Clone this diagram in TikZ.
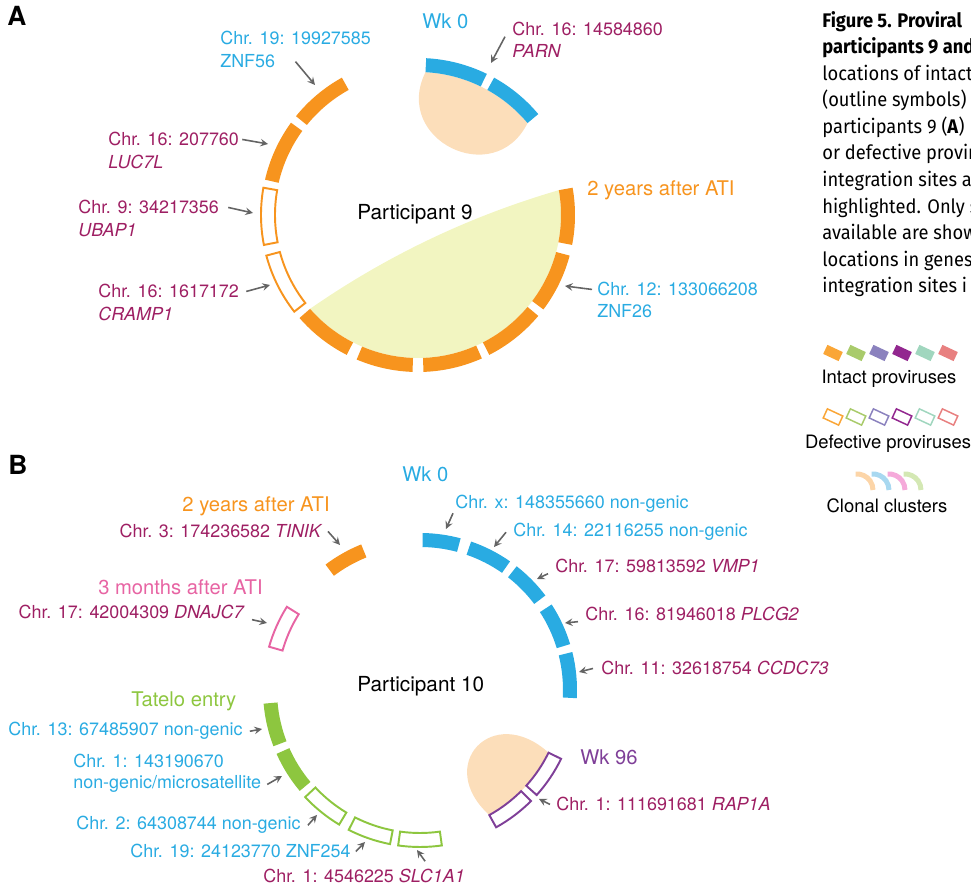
\documentclass[tikz,border=0pt]{standalone}
\usepackage{fontspec}
\setmainfont{TeX Gyre Heros}
\newfontfamily\capfont[FakeStretch=0.93]{Fira Sans}
\usepackage{tikz}

\definecolor{segorange}{RGB}{247,148,30}
\definecolor{segblue}{RGB}{41,171,226}
\definecolor{seggreen}{RGB}{141,198,63}
\definecolor{segpink}{RGB}{231,100,163}
\definecolor{segpurple}{RGB}{127,63,152}
\definecolor{txtmag}{RGB}{158,31,99}
\definecolor{clyellow}{RGB}{242,245,193}
\definecolor{clpeach}{RGB}{252,222,186}
\definecolor{pingray}{RGB}{100,100,100}
\definecolor{lgorange}{RGB}{250,166,55}
\definecolor{lggreen}{RGB}{169,203,107}
\definecolor{lglav}{RGB}{139,130,190}
\definecolor{lgpurple}{RGB}{146,39,143}
\definecolor{lgmint}{RGB}{160,214,190}
\definecolor{lgsalmon}{RGB}{232,128,128}
\definecolor{lcpeach}{RGB}{252,213,168}
\definecolor{lcblue}{RGB}{168,216,240}
\definecolor{lcpink}{RGB}{245,170,218}
\definecolor{lcgreen}{RGB}{212,232,180}

\begin{document}
\begin{tikzpicture}[x=0.02cm, y=0.02cm,
  lbl/.style={inner sep=0pt, anchor=base west, font=\fontsize{10.2}{12}\selectfont},
  tp/.style={inner sep=0pt, anchor=base west, font=\fontsize{11.5}{14}\selectfont},
  pin/.style={-stealth, draw=pingray, line width=0.9pt},
  defect/.style={draw=#1, line width=1.1pt, fill=white},
  legbox/.style={rectangle, inner sep=0pt, minimum width=0.34cm, minimum height=0.2cm, rotate=-25}]
\useasboundingbox (0,0) rectangle (971,892);

%%% A: participant 9
\node (lettA) [inner sep=0pt, anchor=base west, font=\fontsize{15}{17}\selectfont\bfseries] at (7,866) {A};
\begin{scope}[shift={(418,677)}]
% clonal clusters
\fill [clyellow] (10:143) arc[start angle=10, end angle=-139, radius=143] .. controls (-31.5,-40.8) and (51.4,-1.2) .. (10:143) -- cycle;
\fill [clpeach] (87:143) arc[start angle=87, end angle=40, radius=143] .. controls (76,24.8) and (-26,75.7) .. (87:143) -- cycle;
% proviruses
\foreach \a/\b in {-11/10, -37/-15, -63/-40, -88/-66, -113/-92, -139/-117, 119/141, 144/167}
  \fill [segorange] (\a:143) arc[start angle=\a, end angle=\b, radius=143] -- (\b:157) arc[start angle=\b, end angle=\a, radius=157] -- cycle;
\foreach \a/\b in {170/191, 195/218}
  \draw [defect=segorange] (\a:143) arc[start angle=\a, end angle=\b, radius=143] -- (\b:157) arc[start angle=\b, end angle=\a, radius=157] -- cycle;
\foreach \a/\b in {40/61, 64/87}
  \fill [segblue] (\a:143) arc[start angle=\a, end angle=\b, radius=143] -- (\b:157) arc[start angle=\b, end angle=\a, radius=157] -- cycle;
\end{scope}

\node (p9) [tp, font=\fontsize{11.8}{14}\selectfont] at (357,672) {Participant 9};
\node (wk0a) [tp, text=segblue] at (422,863) {Wk 0};
\node (atiA) [tp, text=segorange] at (587,696) {2 years after ATI};

\node (c19) [lbl, text=segblue] at (220,847) {Chr. 19: 19927585};
\node (g19) [lbl, text=segblue] at (220,824) {ZNF56};
\node (c16a) [lbl, text=txtmag] at (108,746) {Chr. 16: 207760};
\node (g16a) [lbl, text=txtmag] at (108,723) {\textit{LUC7L}};
\node (c9) [lbl, text=txtmag] at (78,678) {Chr. 9: 34217356};
\node (g9) [lbl, text=txtmag] at (78,655) {\textit{UBAP1}};
\node (c16b) [lbl, text=txtmag] at (98,594) {Chr. 16: 1617172};
\node (g16b) [lbl, text=txtmag] at (98,571) {\textit{CRAMP1}};
\node (c16c) [lbl, text=txtmag] at (512,856) {Chr. 16: 14584860};
\node (g16c) [lbl, text=txtmag] at (512,834) {\textit{PARN}};
\node (c12) [lbl, text=segblue] at (597,596) {Chr. 12: 133066208};
\node (g12) [lbl, text=segblue] at (597,574) {ZNF26};

\coordinate (t19) at (315,807);
\coordinate (t16a) at (268,748);
\coordinate (t9) at (253,679);
\coordinate (t16b) at (270,607);
\coordinate (t16c) at (491,829);
\coordinate (t12) at (565,606);
\draw [pin] ([xshift=0.4cm]g19.east) -- (t19);
\draw [pin] ([xshift=0.06cm]c16a.east) -- (t16a);
\draw [pin] ([xshift=0.18cm]c9.east) -- (t9);
\draw [pin] ([xshift=0.14cm]c16b.east) -- (t16b);
\draw [pin] ([xshift=-0.14cm]c16c.south west) -- (t16c);
\draw [pin] ([xshift=-0.1cm]c12.west) -- (t12);

%%% B: participant 10
\node (lettB) [inner sep=0pt, anchor=base west, font=\fontsize{15}{17}\selectfont\bfseries] at (8,417) {B};
\begin{scope}[shift={(420,202)}]
\fill [clpeach] (-26:143) arc[start angle=-26, end angle=-61, radius=143] .. controls (13.8,-74.8) and (73,-12.4) .. (-26:143) -- cycle;
\foreach \a/\b in {-3/14, 17/33, 37/52, 55/71, 75/89}
  \fill [segblue] (\a:143) arc[start angle=\a, end angle=\b, radius=143] -- (\b:157) arc[start angle=\b, end angle=\a, radius=157] -- cycle;
\fill [segorange] (112:143) arc[start angle=112, end angle=127, radius=143] -- (127:157) arc[start angle=127, end angle=112, radius=157] -- cycle;
\draw [defect=segpink] (148:143) arc[start angle=148, end angle=164, radius=143] -- (164:157) arc[start angle=164, end angle=148, radius=157] -- cycle;
\foreach \a/\b in {185/201, 204/220}
  \fill [seggreen] (\a:143) arc[start angle=\a, end angle=\b, radius=143] -- (\b:157) arc[start angle=\b, end angle=\a, radius=157] -- cycle;
\foreach \a/\b in {223/239, 243/259, 262/278}
  \draw [defect=seggreen] (\a:143) arc[start angle=\a, end angle=\b, radius=143] -- (\b:157) arc[start angle=\b, end angle=\a, radius=157] -- cycle;
\foreach \a/\b in {-42/-26, -61/-45}
  \draw [defect=segpurple] (\a:143) arc[start angle=\a, end angle=\b, radius=143] -- (\b:157) arc[start angle=\b, end angle=\a, radius=157] -- cycle;
\end{scope}

\node (p10) [tp, font=\fontsize{11.8}{14}\selectfont] at (357,200) {Participant 10};
\node (atiB) [tp, anchor=base east, text=segorange] at (330,380) {2 years after ATI};
\node (m3) [tp, anchor=base east, text=segpink] at (263,297) {3 months after ATI};
\node (wk0b) [tp, text=segblue] at (402,410) {Wk 0};
\node (tat) [tp, text=seggreen] at (131,185) {Tatelo entry};
\node (wk96) [tp, text=segpurple] at (580,127) {Wk 96};

\node (c3) [lbl, anchor=base east, text=txtmag] at (323,354) {Chr. 3: 174236582 \textit{TINIK}};
\node (c17a) [lbl, anchor=base east, text=txtmag] at (245,273) {Chr. 17: 42004309 \textit{DNAJC7}};
\node (cx) [lbl, text=segblue] at (455,383) {Chr. x: 148355660 non-genic};
\node (c14) [lbl, text=segblue] at (513,355) {Chr. 14: 22116255 non-genic};
\node (c17b) [lbl, text=txtmag] at (555,319) {Chr. 17: 59813592 \textit{VMP1}};
\node (c16d) [lbl, text=txtmag] at (585,271) {Chr. 16: 81946018 \textit{PLCG2}};
\node (c11) [lbl, text=txtmag] at (601,217) {Chr. 11: 32618754 \textit{CCDC73}};
\node (c13) [lbl, text=segblue] at (8,156) {Chr. 13: 67485907 non-genic};
\node (c1a) [lbl, text=segblue] at (73,124) {Chr. 1: 143190670};
\node (g1a) [lbl, text=segblue] at (73,103) {non-genic/microsatellite};
\node (c2) [lbl, text=segblue] at (76,62) {Chr. 2: 64308744 non-genic};
\node (c19b) [lbl, text=segblue] at (130,34) {Chr. 19: 24123770 ZNF254};
\node (c1b) [lbl, text=txtmag] at (263,9) {Chr. 1: 4546225 \textit{SLC1A1}};
\node (c1c) [lbl, text=txtmag] at (556,81) {Chr. 1: 111691681 \textit{RAP1A}};

\coordinate (t3) at (340,347);
\coordinate (t17a) at (267,269);
\coordinate (tx) at (446,363);
\coordinate (t14) at (494,345);
\coordinate (t17b) at (537,313);
\coordinate (t16d) at (565,269);
\coordinate (t11) at (579,220);
\coordinate (t13) at (262,163);
\coordinate (t1a) at (282,116);
\coordinate (t2) at (317,77);
\coordinate (t19b) at (365,50);
\coordinate (t1b) at (417,42);
\coordinate (t1c) at (539,93);
\draw [pin] ([xshift=0.1cm]c3.east) -- (t3);
\draw [pin] ([xshift=0.14cm]c17a.south east) -- (t17a);
\draw [pin] ([xshift=-0.04cm]cx.south west) -- (tx);
\draw [pin] ([xshift=-0.14cm]c14.west) -- (t14);
\draw [pin] ([xshift=-0.14cm]c17b.south west) -- (t17b);
\draw [pin] ([xshift=-0.14cm]c16d.south west) -- (t16d);
\draw [pin] ([xshift=-0.16cm]c11.west) -- (t11);
\draw [pin] ([xshift=0.14cm]c13.east) -- (t13);
\draw [pin] ([xshift=0.12cm]g1a.east) -- (t1a);
\draw [pin] ([xshift=0.14cm]c2.east) -- (t2);
\draw [pin] ([xshift=0.1cm]c19b.east) -- (t19b);
\draw [pin] ([xshift=-0.8cm,yshift=0.16cm]c1b.north east) -- (t1b);
\draw [pin] ([xshift=-0.12cm]c1c.west) -- (t1c);

%%% caption and key
\node (caption) [inner sep=0pt, anchor=north west, align=left, font=\capfont\fontsize{11.2}{15.1}\selectfont] at (822,881) {%
\textbf{Figure 5. Proviral}\\
\textbf{participants 9 and}\\
locations of intact\\
(outline symbols)\\
participants 9 (\textbf{A})\\
or defective provir\\
integration sites a\\
highlighted. Only s\\
available are show\\
locations in genes\\
integration sites i};

\foreach \c [count=\i] in {lgorange, lggreen, lglav, lgpurple, lgmint, lgsalmon} {
  \node (int\i) [legbox, fill=\c] at (810+23*\i,539) {};
  \node (def\i) [legbox, draw=\c, line width=0.85pt] at (810+23*\i,475) {};
}
\foreach \c [count=\i] in {lcpeach, lcblue, lcpink, lcgreen}
  \draw [\c, line width=0.1cm] (841+16*\i,402) ++(95:16) arc[start angle=95, end angle=0, radius=16];

\node (intlab) [inner sep=0pt, anchor=base, font=\fontsize{10.5}{12}\selectfont] at (889,508) {Intact proviruses};
\node (deflab) [inner sep=0pt, anchor=base, font=\fontsize{10.5}{12}\selectfont] at (888,443) {Defective proviruses};
\node (clolab) [inner sep=0pt, anchor=base, font=\fontsize{10.5}{12}\selectfont] at (887,379) {Clonal clusters};
\end{tikzpicture}
\end{document}
